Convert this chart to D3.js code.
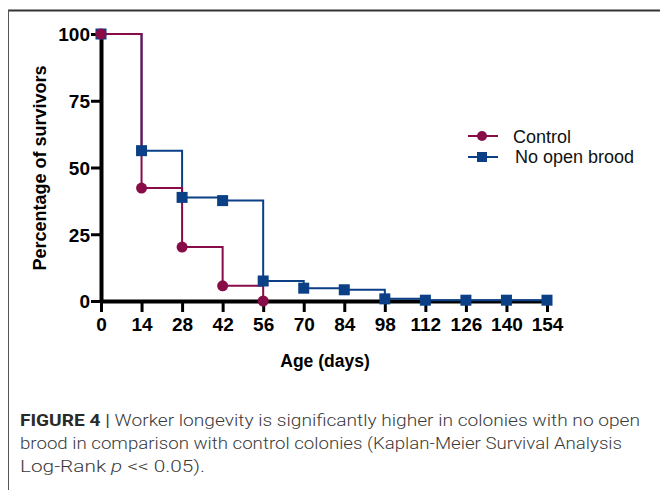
<!DOCTYPE html>
<html>
<head>
<meta charset="utf-8">
<script src="https://cdn.jsdelivr.net/npm/d3@7"></script>
<style>
  body { margin: 0; background: #fff; }
  text { font-family: "Liberation Sans", Arial, sans-serif; }
</style>
</head>
<body>
<div id="chart"></div>
<script>
// Data
const days = [0, 14, 28, 42, 56, 70, 84, 98, 112, 126, 140, 154];
const controlDays = [0, 14, 28, 42, 56];
const controlValues = [100, 42.3, 20.2, 5.7, 0];
const broodDays = [0, 14, 28, 42, 56, 70, 84, 98, 112, 126, 140, 154];
const broodValues = [100, 56.3, 38.8, 37.6, 7.5, 4.8, 4.2, 0.8, 0.3, 0.3, 0.3, 0.3];
const yTicks = [0, 25, 50, 75, 100];
const seriesNames = ["Control", "No open brood"];
const captionLines = [
  ["FIGURE 4 ", "Worker longevity is significantly higher in colonies with no open"],
  ["", "brood in comparison with control colonies (Kaplan-Meier Survival Analysis"],
  ["", "Log-Rank "]
];
const captionWidths = [620, 602, 185];

const W = 660, H = 490;
const colControl = "#870c48", colBrood = "#0b3f86";

const svg = d3.select('#chart').append('svg')
    .attr('width', W)
    .attr('height', H);

// frame of the figure panel
svg.append('line').attr('x1', 8).attr('x2', W).attr('y1', 10.5).attr('y2', 10.5)
    .attr('stroke', '#333').attr('stroke-width', 2);
svg.append('line').attr('x1', 8.5).attr('x2', 8.5).attr('y1', 10).attr('y2', H)
    .attr('stroke', '#555').attr('stroke-width', 1);

const x = d3.scaleLinear().domain([0, 154]).range([101, 547]);
const y = d3.scaleLinear().domain([0, 100]).range([301, 34]);

// axes
const xAxis = svg.append('g')
    .attr('transform', 'translate(0,' + y(0) + ')')
    .call(d3.axisBottom(x).tickValues(days).tickSize(11).tickPadding(6).tickSizeOuter(0));
const yAxis = svg.append('g')
    .attr('transform', 'translate(' + x(0) + ',0)')
    .call(d3.axisLeft(y).tickValues(yTicks).tickSize(10).tickPadding(1).tickSizeOuter(0));

[xAxis, yAxis].forEach(g => {
    g.select('.domain').attr('stroke', '#000').attr('stroke-width', 4);
    g.selectAll('.tick line').attr('stroke', '#000').attr('stroke-width', 3);
    g.selectAll('.tick text')
        .attr('fill', '#000')
        .style('font-family', '"Liberation Sans", Arial, sans-serif')
        .style('font-weight', 'bold')
        .style('font-size', '19px');
});
yAxis.selectAll('.tick text').attr('dy', '0.36em');

// axis titles
svg.append('text')
    .attr('x', 325).attr('y', 367)
    .attr('text-anchor', 'middle')
    .style('font-weight', 'bold').style('font-size', '17.5px')
    .text('Age (days)');
svg.append('text')
    .attr('transform', 'translate(46,' + 168 + ') rotate(-90)')
    .attr('text-anchor', 'middle')
    .style('font-weight', 'bold').style('font-size', '18px')
    .text('Percentage of survivors');

// step lines
const step = d3.line()
    .x(d => x(d[0]))
    .y(d => y(d[1]))
    .curve(d3.curveStepAfter);

const controlData = controlDays.map((d, i) => [d, controlValues[i]]);
const broodData = broodDays.map((d, i) => [d, broodValues[i]]);

svg.append('path').datum(broodData)
    .attr('d', step).attr('fill', 'none')
    .attr('stroke', colBrood).attr('stroke-width', 2);
svg.append('path').datum(controlData)
    .attr('d', step).attr('fill', 'none')
    .attr('stroke', colControl).attr('stroke-width', 2);

// markers
const sq = 11;
svg.selectAll('.sq').data(broodData).enter()
    .append('rect')
    .attr('x', d => x(d[0]) - sq / 2)
    .attr('y', d => y(d[1]) - sq / 2)
    .attr('width', sq).attr('height', sq)
    .attr('fill', colBrood);
svg.selectAll('.dot').data(controlData).enter()
    .append('circle')
    .attr('cx', d => x(d[0]))
    .attr('cy', d => y(d[1]))
    .attr('r', 5.5)
    .attr('fill', colControl);

// legend
const legend = svg.append('g');
[colControl, colBrood].forEach((c, i) => {
    const ly = 136 + i * 21;
    legend.append('line').attr('x1', 468).attr('x2', 498).attr('y1', ly).attr('y2', ly)
        .attr('stroke', c).attr('stroke-width', 2);
    if (i === 0) {
        legend.append('circle').attr('cx', 482).attr('cy', ly).attr('r', 5).attr('fill', c);
    } else {
        legend.append('rect').attr('x', 477).attr('y', ly - 5).attr('width', 10).attr('height', 10).attr('fill', c);
    }
    legend.append('text').attr('x', i === 0 ? 513 : 515).attr('y', i === 0 ? 143 : 163)
        .style('font-size', '18px').attr('fill', '#111')
        .text(seriesNames[i]);
});

// caption
const cap = svg.append('g');
captionLines.forEach((parts, i) => {
    const t = cap.append('text')
        .attr('x', 20).attr('y', 426 + i * 23)
        .attr('textLength', captionWidths[i])
        .attr('lengthAdjust', 'spacingAndGlyphs')
        .style('font-family', 'Roboto, "Liberation Sans", sans-serif')
        .style('font-size', '16px')
        .style('font-weight', 300)
        .attr('fill', '#3a3a3a');
    if (parts[0]) {
        t.append('tspan').style('font-weight', 'bold').attr('fill', '#2a2a2a').text(parts[0]);
        t.append('tspan').style('font-weight', 400).text('| ');
    }
    t.append('tspan').text(parts[1]);
    if (i === 2) {
        t.append('tspan').style('font-style', 'italic').text('p');
        t.append('tspan').text(' << 0.05).');
    }
});
</script>
</body>
</html>
